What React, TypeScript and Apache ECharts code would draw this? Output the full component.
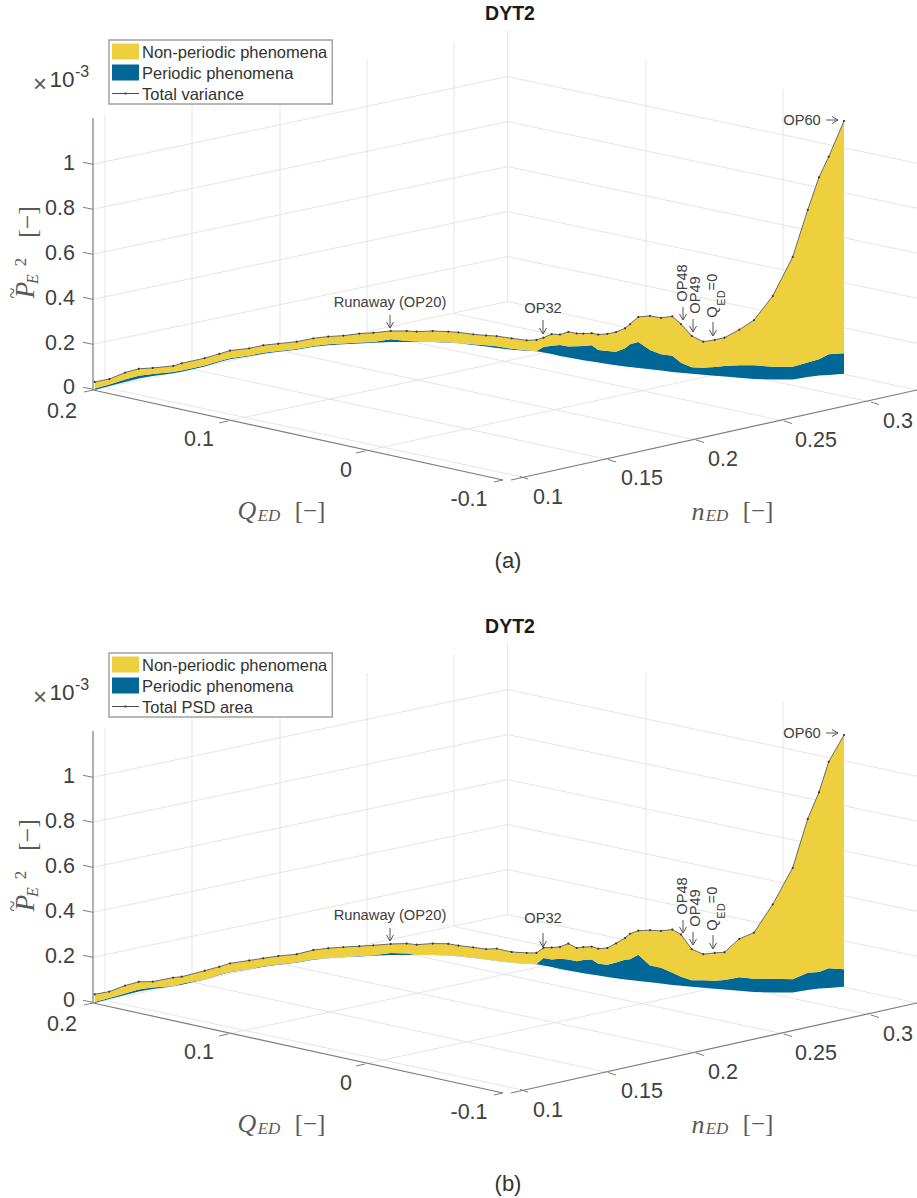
import React, { useEffect, useRef } from "react";
import * as echarts from "echarts";

// Projected horizontal position of operating points OP1..OP60 on the floor of the 3D box
const projectedPosition = [
  94.7, 109.3, 125, 138.7, 152.7, 173.3, 181.7, 204.7, 219.3, 230,
  249.3, 263.3, 278.3, 296.7, 313.3, 328.3, 343.3, 359.3, 373.3, 390.7,
  406.7, 416.7, 432.7, 448.3, 458.3, 473.3, 486, 496.7, 511.7, 526.7,
  536.5, 543.5, 551.7, 560, 568.3, 576.7, 583.3, 591.7, 598.3, 607.3,
  616, 625, 630, 638.3, 650, 661, 672.3, 681, 691.7, 703.3,
  714.7, 724.5, 739.3, 754, 772.7, 792.7, 807.7, 819, 828.7, 844,
];
// Elevation of the floor path under each point, in the same unit as the values (x 10^-3)
const floorElevation = [
  0.944, 0.962, 0.98, 0.996, 1.007, 1.019, 1.026, 1.05, 1.07, 1.082,
  1.095, 1.107, 1.116, 1.125, 1.138, 1.145, 1.149, 1.153, 1.156, 1.16,
  1.16, 1.16, 1.159, 1.156, 1.154, 1.146, 1.139, 1.133, 1.125, 1.12,
  1.118, 1.112, 1.106, 1.097, 1.09, 1.083, 1.078, 1.072, 1.067, 1.061,
  1.055, 1.05, 1.047, 1.043, 1.037, 1.031, 1.025, 1.021, 1.017, 1.012,
  1.008, 1.004, 0.999, 0.993, 0.991, 0.991, 1.002, 1.009, 1.011, 1.017,
];
const totalA = [
  0.036, 0.031, 0.042, 0.043, 0.036, 0.033, 0.038, 0.037, 0.036, 0.039,
  0.036, 0.038, 0.036, 0.036, 0.038, 0.039, 0.039, 0.044, 0.045, 0.049,
  0.049, 0.046, 0.05, 0.05, 0.049, 0.048, 0.05, 0.053, 0.051, 0.047,
  0.051, 0.067, 0.089, 0.096, 0.115, 0.115, 0.119, 0.127, 0.126, 0.135,
  0.149, 0.171, 0.193, 0.229, 0.24, 0.237, 0.25, 0.219, 0.17, 0.149,
  0.161, 0.175, 0.216, 0.265, 0.375, 0.551, 0.751, 0.891, 0.981, 1.136,
];
const periodicA = [
  0.007, 0.007, 0.011, 0.012, 0.009, 0.006, 0.006, 0.004, 0.004, 0.004,
  0.004, 0.004, 0.003, 0.003, 0.004, 0.004, 0.004, 0.004, 0.004, 0.012,
  0.004, 0.002, 0.002, 0.002, 0.001, 0.003, 0.006, 0.007, 0.004, 0.002,
  0.001, 0.025, 0.037, 0.049, 0.049, 0.057, 0.064, 0.073, 0.057, 0.058,
  0.061, 0.081, 0.102, 0.116, 0.087, 0.073, 0.073, 0.045, 0.029, 0.032,
  0.039, 0.048, 0.056, 0.062, 0.057, 0.057, 0.065, 0.073, 0.093, 0.092,
];
const totalB = [
  0.039, 0.033, 0.042, 0.043, 0.033, 0.039, 0.036, 0.039, 0.037, 0.04,
  0.04, 0.038, 0.039, 0.038, 0.044, 0.045, 0.046, 0.046, 0.047, 0.049,
  0.051, 0.046, 0.052, 0.054, 0.048, 0.048, 0.047, 0.055, 0.048, 0.049,
  0.051, 0.08, 0.087, 0.099, 0.121, 0.108, 0.117, 0.125, 0.121, 0.13,
  0.157, 0.186, 0.208, 0.226, 0.234, 0.237, 0.249, 0.231, 0.169, 0.151,
  0.161, 0.168, 0.233, 0.267, 0.396, 0.56, 0.769, 0.882, 1.017, 1.131,
];
const periodicB = [
  0.004, 0.004, 0.007, 0.009, 0.007, 0.001, 0.004, 0.001, 0.002, 0.002,
  0.002, 0.002, 0.002, 0.002, 0.002, 0.001, 0.002, 0.002, 0.002, 0.008,
  0.006, 0, 0.001, 0.001, 0.001, 0.001, 0.001, 0.001, 0.001, 0.001,
  0.001, 0.034, 0.033, 0.046, 0.049, 0.048, 0.059, 0.067, 0.053, 0.055,
  0.071, 0.088, 0.094, 0.118, 0.075, 0.071, 0.055, 0.041, 0.029, 0.034,
  0.036, 0.043, 0.061, 0.06, 0.062, 0.06, 0.078, 0.074, 0.089, 0.078,
];

const pTicks = ["0", "0.2", "0.4", "0.6", "0.8", "1"];
const qTicks = ["0.2", "0.1", "0", "-0.1"];
const nTicks = ["0.1", "0.15", "0.2", "0.25", "0.3"];
const NON_PERIODIC = "Non-periodic phenomena";
const PERIODIC = "Periodic phenomena";

const SANS = "Liberation Sans, Arial, sans-serif";
const SERIF = "Liberation Serif, serif";
const INK = "#404040";
const GRID = "#e9e4e2";
const AXIS = "#7f7b7b";
const YELLOW = "#eecf3e";
const BLUE = "#006797";
const PX_PER_UNIT = 222.5;
const PANEL_SHIFT = 613;
const LINE_ICON = "path://M0 0L0 0ZM27 16L27 16ZM0 7.6H27V8.4H0ZM12.4 7H14.6V9H12.4Z";

// Box geometry of the 3D axes, in the upper panel's frame
const LEFT = [93, 390];
const FRONT = [503, 480];
const RIGHT = [917, 390];
const BACK_X = 507.5;
const SLOPE = 0.2116;
const levelY = (p: number) => 389.3 - 225 * p;
const qTickPos = [[93, 390], [228, 421], [365, 451], [503, 480]];
const qLabelPos = [[62, 411], [199, 439], [346, 470], [469, 499]];
const nTickPos = [[520, 476.5], [608, 459.5], [696, 440], [784, 421], [871, 402]];
const nLabelPos = [[548, 497], [642, 478], [723, 458.5], [816, 440], [898, 421]];
const leftWallX = [105, 192, 280, 367, 454];
const rightWallX = [646, 783];

function buildDecor(dy: number, bottomLabel: string, bottomY: number, op32Y: number) {
  const els: any[] = [];
  const line = (x1: number, y1: number, x2: number, y2: number, stroke: string, lineWidth = 1) =>
    els.push({ type: "line", silent: true, shape: { x1, y1: y1 + dy, x2, y2: y2 + dy }, style: { stroke, lineWidth } });
  const text = (t: string, x: number, y: number, size: number, o: any = {}) =>
    els.push({
      type: "text", silent: true, x, y: y + dy, rotation: o.rotation || 0,
      style: {
        text: t, fontSize: size, fontFamily: o.family || SANS, fontStyle: o.italic ? "italic" : "normal",
        fontWeight: o.bold ? "bold" : "normal", fill: o.fill || INK,
        align: o.align || "center", verticalAlign: "middle",
      },
    });
  const arrow = (x1: number, y1: number, x2: number, y2: number) => {
    line(x1, y1, x2, y2, "#555555");
    const horizontal = y1 === y2;
    els.push({
      type: "polyline", silent: true,
      shape: {
        points: horizontal
          ? [[x2 - 6, y2 - 3.5 + dy], [x2, y2 + dy], [x2 - 6, y2 + 3.5 + dy]]
          : [[x2 - 3.5, y2 - 6 + dy], [x2, y2 + dy], [x2 + 3.5, y2 - 6 + dy]],
      },
      style: { stroke: "#555555", lineWidth: 1, fill: "none" },
    });
  };
  const up = Math.PI / 2;

  // walls and floor grid
  const backBase = levelY(0) - SLOPE * (BACK_X - LEFT[0]);
  [0.2, 0.4, 0.6, 0.8, 1].forEach((p) => {
    const y = levelY(p);
    const by = y - SLOPE * (BACK_X - LEFT[0]);
    line(LEFT[0], y, BACK_X, by, GRID);
    line(BACK_X, by, RIGHT[0], by + SLOPE * (RIGHT[0] - BACK_X), GRID);
  });
  const topLeft = 118;
  leftWallX.forEach((x) => {
    const base = LEFT[1] - SLOPE * (x - LEFT[0]);
    line(x, base, x, topLeft - SLOPE * (x - LEFT[0]), GRID);
  });
  const backTop = topLeft - SLOPE * (BACK_X - LEFT[0]);
  line(BACK_X, backBase, BACK_X, backTop, GRID);
  rightWallX.forEach((x) => {
    const base = backBase + SLOPE * (x - BACK_X);
    line(x, base, x, backTop + SLOPE * (x - BACK_X), GRID);
  });
  line(LEFT[0], LEFT[1], BACK_X, backBase, GRID);
  line(BACK_X, backBase, RIGHT[0], RIGHT[1], GRID);
  qTickPos.slice(1, 3).forEach((t, i) => {
    const x = rightWallX[i];
    line(t[0], t[1], x, backBase + SLOPE * (x - BACK_X), GRID);
  });
  nTickPos.forEach((t, i) => {
    const x = leftWallX[i];
    line(t[0], t[1], x, LEFT[1] - SLOPE * (x - LEFT[0]), GRID);
  });

  // axes, ticks and tick labels
  line(LEFT[0], 118, LEFT[0], LEFT[1], AXIS, 1.2);
  line(LEFT[0], LEFT[1], FRONT[0], FRONT[1], AXIS, 1.2);
  line(FRONT[0] + 8, FRONT[1], RIGHT[0], RIGHT[1], AXIS, 1.2);
  pTicks.forEach((label, i) => {
    const y = levelY(i * 0.2);
    line(LEFT[0] - 10, y - 2, LEFT[0], y, AXIS);
    text(label, 75, y - (i === 0 ? 2 : 1), 21.5, { align: "right" });
  });
  qTicks.forEach((label, i) => {
    const t = qTickPos[i];
    line(t[0] - 9, t[1] + 2, t[0], t[1], AXIS);
    text(label, qLabelPos[i][0], qLabelPos[i][1], 21.5);
  });
  nTicks.forEach((label, i) => {
    const t = nTickPos[i];
    line(t[0], t[1], t[0] + 8, t[1] + 2.5, AXIS);
    text(label, nLabelPos[i][0], nLabelPos[i][1], 21.5);
  });

  // exponent
  text("\u00d7", 40, 83, 24, { fill: "#595959" });
  text("10", 62, 79, 22.5);
  text("-3", 82, 71, 16);

  // axis titles
  text("Q", 247, 510, 26, { family: SERIF, italic: true, fill: "#595959" });
  text("ED", 269, 515, 17, { family: SERIF, italic: true, fill: "#595959" });
  text("[\u2212]", 310, 510, 25, { family: SERIF, fill: "#595959" });
  text("n", 698, 511, 26, { family: SERIF, italic: true, fill: "#595959" });
  text("ED", 717, 515, 17, { family: SERIF, italic: true, fill: "#595959" });
  text("[\u2212]", 758, 510, 25, { family: SERIF, fill: "#595959" });
  text("P", 25, 290, 27, { family: SERIF, italic: true, rotation: up, fill: "#595959" });
  text("~", 12, 293, 20, { family: SERIF, rotation: up, fill: "#595959" });
  text("E", 32, 279, 16, { family: SERIF, italic: true, rotation: up, fill: "#595959" });
  text("2", 20, 262, 17, { family: SERIF, rotation: up, fill: "#595959" });
  text("[\u2212]", 27, 222, 26, { family: SERIF, rotation: up, fill: "#595959" });

  // annotations
  text("Runaway (OP20)", 390, 302, 14.7);
  arrow(390, 315, 390, 328);
  text("OP32", 543, op32Y, 14.7);
  arrow(543, 320, 543, 334);
  text("OP48", 682, 283, 14.7, { rotation: up });
  arrow(683, 307, 683, 320);
  text("OP49", 695, 295, 14.7, { rotation: up });
  arrow(693, 319, 693, 332);
  text("Q", 712, 312, 14.7, { rotation: up });
  text("ED", 721, 298, 11, { rotation: up });
  text("=0", 712, 282, 14.7, { rotation: up });
  arrow(713, 322, 713, 336);
  text("OP60", 802, 120, 14.7);
  arrow(826, 120, 838, 120);

  // caption and title
  text("DYT2", 510, 13, 19.5, { bold: true, fill: "#1a1a1a" });
  text(bottomLabel, 508, bottomY, 22, { fill: "#333333" });
  return els;
}

// A band between two curves along the floor path, placed through the grid's scales
function band(idx: number, name: string, color: string, low: number[], high: number[]) {
  return {
    type: "custom", name, xAxisIndex: idx, yAxisIndex: idx, silent: true, clip: false,
    itemStyle: { color },
    encode: { x: 0, y: [1, 2] },
    data: projectedPosition.map((x, i) => [x, low[i], high[i]]),
    renderItem: (params: any, api: any) => {
      if (params.dataIndex !== 0) return null;
      const lower = projectedPosition.map((x, i) => api.coord([x, low[i]]));
      const upper = projectedPosition.map((x, i) => api.coord([x, high[i]])).reverse();
      return { type: "polygon", shape: { points: [...lower, ...upper] }, style: { fill: color } };
    },
  };
}

function panelSeries(idx: number, totalName: string, total: number[], periodic: number[]) {
  const periodicTop = periodic.map((p, i) => p + floorElevation[i]);
  const totalTop = total.map((t, i) => t + floorElevation[i]);
  return [
    band(idx, PERIODIC, BLUE, floorElevation, periodicTop),
    band(idx, NON_PERIODIC, YELLOW, periodicTop, totalTop),
    {
      type: "line", xAxisIndex: idx, yAxisIndex: idx, silent: true, smooth: false,
      name: totalName, symbol: "circle", symbolSize: 2.2, showSymbol: true,
      lineStyle: { color: "#6a6a6a", width: 1 }, itemStyle: { color: "#3a3a3a" }, z: 5,
      data: projectedPosition.map((x, i) => [x, totalTop[i]]),
    },
  ];
}

function legend(top: number, totalName: string) {
  return {
    show: true, left: 109, top, orient: "vertical", selectedMode: false,
    backgroundColor: "#ffffff", borderColor: "#a3a0a0", borderWidth: 1.5,
    padding: [3, 5, 2, 3], itemGap: 4, itemWidth: 27, itemHeight: 16,
    textStyle: { fontSize: 16.5, fontFamily: SANS, color: "#333333", padding: [0, 0, 0, -2] },
    data: [
      { name: NON_PERIODIC, icon: "rect" },
      { name: PERIODIC, icon: "rect" },
      { name: totalName, icon: LINE_ICON, itemStyle: { color: "#4a4a4a" } },
    ],
  };
}

export default function App() {
  const ref = useRef<HTMLDivElement>(null);
  useEffect(() => {
    document.body.style.margin = "0";
    const chart = echarts.init(ref.current as HTMLDivElement, undefined, { renderer: "svg" });
    const axis = (gridIndex: number, min: number, max: number) => ({ type: "value", gridIndex, min, max, show: false });
    chart.setOption({
      animation: false,
      backgroundColor: "#ffffff",
      grid: [
        { left: 0, top: 0, width: 917, height: 600 },
        { left: 0, top: PANEL_SHIFT, width: 917, height: 585 },
      ],
      xAxis: [axis(0, 0, 917), axis(1, 0, 917)],
      yAxis: [axis(0, 0, 600 / PX_PER_UNIT), axis(1, 15 / PX_PER_UNIT, 600 / PX_PER_UNIT)],
      legend: [legend(40, "Total variance"), legend(40 + PANEL_SHIFT, "Total PSD area")],
      graphic: {
        elements: [
          ...buildDecor(0, "(a)", 560, 308),
          ...buildDecor(PANEL_SHIFT, "(b)", 570, 305),
        ],
      },
      series: [
        ...panelSeries(0, "Total variance", totalA, periodicA),
        ...panelSeries(1, "Total PSD area", totalB, periodicB),
      ],
    });
    return () => chart.dispose();
  }, []);
  return <div ref={ref} style={{ width: 917, height: 1198 }} />;
}
